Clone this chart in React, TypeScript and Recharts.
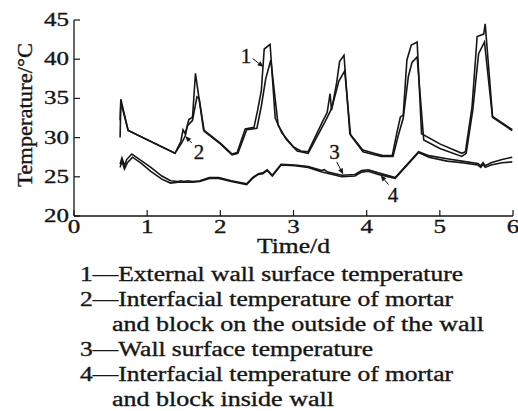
import { LineChart, Line, XAxis, YAxis, ReferenceLine, ReferenceDot, Label } from 'recharts';

const X_TICKS = [0, 1, 2, 3, 4, 5, 6];
const Y_TICKS = [20, 25, 30, 35, 40, 45];

// [time (d), temperature (°C)]
const externalSurface: [number, number][] = [
    [0.63, 32.2], [0.64, 34.9], [0.74, 30.9], [1.38, 28.0], [1.46, 29.5], [1.49, 31.0], [1.52, 30.5],
    [1.57, 32.3], [1.62, 32.6], [1.66, 38.2], [1.77, 31.0], [2.0, 29.3], [2.16, 27.9], [2.23, 28.1],
    [2.34, 31.1], [2.46, 31.3], [2.51, 33.5], [2.56, 36.0], [2.60, 41.3], [2.68, 41.9], [2.75, 32.5],
    [2.84, 30.6], [3.0, 28.8], [3.1, 28.3], [3.2, 28.2], [3.41, 32.3], [3.46, 33.2], [3.50, 35.6],
    [3.52, 33.5], [3.59, 37.0], [3.63, 39.7], [3.69, 40.5], [3.77, 30.5], [3.95, 28.4], [4.1, 28.0],
    [4.22, 27.7], [4.35, 27.7], [4.41, 30.5], [4.46, 32.6], [4.50, 32.9], [4.55, 39.9], [4.61, 41.8],
    [4.69, 42.2], [4.75, 30.5], [5.0, 29.2], [5.30, 28.0], [5.35, 28.2], [5.44, 33.9], [5.51, 42.9],
    [5.60, 43.2], [5.62, 44.5], [5.72, 32.7], [5.99, 31.0],
];
const outsideInterface: [number, number][] = [
    [0.63, 30.0], [0.64, 34.5], [0.74, 30.9], [1.38, 28.0], [1.47, 29.3], [1.52, 30.2], [1.55, 31.5],
    [1.62, 32.2], [1.68, 35.2], [1.71, 35.0], [1.78, 30.8], [2.0, 29.2], [2.16, 27.8], [2.24, 28.0],
    [2.36, 31.0], [2.50, 31.2], [2.56, 34.0], [2.62, 37.5], [2.69, 39.9], [2.79, 31.6], [2.9, 29.8],
    [3.05, 28.3], [3.2, 28.0], [3.43, 32.0], [3.50, 33.3], [3.53, 34.0], [3.62, 37.2], [3.70, 38.5],
    [3.78, 30.3], [3.95, 28.2], [4.2, 27.6], [4.36, 27.6], [4.43, 30.2], [4.50, 32.5], [4.57, 37.8],
    [4.62, 39.6], [4.69, 40.3], [4.78, 29.7], [5.0, 28.6], [5.30, 27.6], [5.36, 28.0], [5.45, 33.5],
    [5.53, 40.7], [5.61, 42.2], [5.72, 32.6], [5.99, 30.9],
];
const wallSurface: [number, number][] = [
    [0.63, 26.6], [0.655, 27.4], [0.69, 26.4], [0.72, 27.2], [0.79, 27.9], [0.9, 27.2], [1.05, 26.2],
    [1.2, 25.1], [1.32, 24.5], [1.42, 24.4], [1.46, 24.5], [1.5, 24.4], [1.56, 24.5], [1.62, 24.4],
    [1.72, 24.5], [1.85, 24.9], [1.98, 24.9], [2.15, 24.5], [2.36, 24.1], [2.44, 24.9], [2.52, 25.4],
    [2.58, 25.5], [2.64, 25.9], [2.71, 25.2], [2.83, 26.6], [3.02, 26.5], [3.2, 26.3], [3.39, 25.8],
    [3.42, 25.9], [3.47, 25.6], [3.66, 25.2], [3.84, 25.3], [3.93, 25.8], [4.02, 25.9], [4.16, 25.5],
    [4.39, 24.9], [4.71, 28.2], [4.85, 27.7], [5.1, 27.3], [5.30, 27.0], [5.52, 26.7], [5.56, 26.4],
    [5.59, 26.8], [5.62, 26.4], [5.7, 26.8], [5.85, 27.2], [5.99, 27.5],
];
const insideInterface: [number, number][] = [
    [0.63, 26.2], [0.655, 27.0], [0.69, 26.0], [0.73, 26.8], [0.8, 27.5], [0.92, 26.7], [1.05, 25.7],
    [1.2, 24.7], [1.32, 24.2], [1.42, 24.3], [1.5, 24.3], [1.62, 24.3], [1.72, 24.4], [1.85, 24.8],
    [1.98, 24.8], [2.15, 24.4], [2.36, 24.0], [2.44, 24.8], [2.52, 25.3], [2.58, 25.4], [2.64, 25.8],
    [2.71, 25.1], [2.83, 26.5], [3.02, 26.4], [3.2, 26.2], [3.39, 25.6], [3.66, 25.0], [3.84, 25.1],
    [3.93, 25.6], [4.02, 25.7], [4.16, 25.3], [4.39, 24.8], [4.71, 28.1], [4.85, 27.5], [5.1, 27.0],
    [5.30, 26.8], [5.52, 26.5], [5.56, 26.2], [5.59, 26.6], [5.62, 26.2], [5.7, 26.5], [5.85, 26.8],
    [5.99, 26.9],
];

const SERIES_IDS = ['1', '2', '3', '4'];
const SERIES_NAMES = [
    ['External wall surface temperature'],
    ['Interfacial temperature of mortar', 'and block on the outside of the wall'],
    ['Wall surface temperature'],
    ['Interfacial temperature of mortar', 'and block inside wall'],
];
const SERIES_POINTS = [externalSurface, outsideInterface, wallSurface, insideInterface];

// numbered callouts: label position and arrow (data coordinates)
const CALLOUT_TEXT: [number, number][] = [[2.35, 40.4], [1.71, 28.2], [3.56, 28.2], [4.36, 22.7]];
const CALLOUT_FROM: [number, number][] = [[2.44, 40.1], [1.61, 29.3], [3.59, 26.9], [4.30, 24.0]];
const CALLOUT_TO: [number, number][] = [[2.59, 39.0], [1.52, 30.2], [3.68, 25.3], [4.19, 25.2]];

const INK = '#161616';
const FONT = 'Liberation Serif';
// scanned text looks a little heavier than the plain font
const TEXT_STYLE = { fill: INK, stroke: INK, strokeWidth: 0.35, fontFamily: FONT };

const XTick = ({ x, y, payload }: any) => {
    const s = String(payload.value);
    return (
        <g>
            <line x1={x} x2={x} y1={y} y2={y - 6} stroke={INK} strokeWidth={1.2} />
            <text x={x} y={y + 17} textAnchor="middle" fontSize={19} {...TEXT_STYLE}
                textLength={12.5 * s.length} lengthAdjust="spacingAndGlyphs">{s}</text>
        </g>
    );
};

const YTick = ({ x, y, payload }: any) => {
    const s = String(payload.value);
    return (
        <g>
            <line x1={x} x2={x + 6} y1={y} y2={y} stroke={INK} strokeWidth={1.2} />
            <text x={x - 5} y={y + 6} textAnchor="end" fontSize={19} {...TEXT_STYLE}
                textLength={12.5 * s.length} lengthAdjust="spacingAndGlyphs">{s}</text>
        </g>
    );
};

const Arrow = ({ x1, y1, x2, y2 }: any) => {
    const a = Math.atan2(y2 - y1, x2 - x1);
    const L = 6, W = 2.5;
    const bx = x2 - L * Math.cos(a), by = y2 - L * Math.sin(a);
    const px = -Math.sin(a) * W, py = Math.cos(a) * W;
    return (
        <g>
            <line x1={x1} y1={y1} x2={bx} y2={by} stroke={INK} strokeWidth={1} />
            <polygon points={`${x2},${y2} ${bx + px},${by + py} ${bx - px},${by - py}`} fill={INK} />
        </g>
    );
};

// legend line layout: [x, baseline, textLength]
const LEGEND_LAYOUT: [number, number, number][] = [
    [80, 281, 383], [80, 306, 373], [112, 331, 372], [80, 356, 293], [80, 381, 373], [112, 406, 222],
];

export default function App() {
    const legendLines: string[] = [];
    SERIES_NAMES.forEach((name, i) => {
        name.forEach((part, j) => legendLines.push(j === 0 ? `${SERIES_IDS[i]}\u2014${part}` : part));
    });

    return (
        <div style={{ position: 'relative', width: 518, height: 411, background: '#fff' }}>
            <style>{`body{margin:0}`}</style>
            <LineChart width={518} height={260} margin={{ top: 20, right: 5, left: 0, bottom: 0 }}>
                <XAxis type="number" dataKey="t" domain={[0, 6]} ticks={X_TICKS} allowDataOverflow
                    height={44} tickSize={0} tickMargin={0} tick={<XTick />}
                    axisLine={{ stroke: INK, strokeWidth: 1.3 }} tickLine={false}>
                    <Label content={({ viewBox }: any) => (
                        <text x={viewBox.x + viewBox.width / 2} y={viewBox.y + 37} textAnchor="middle"
                            fontSize={20} {...TEXT_STYLE} textLength={73}
                            lengthAdjust="spacingAndGlyphs">Time/d</text>
                    )} />
                </XAxis>
                <YAxis type="number" domain={[20, 45]} ticks={Y_TICKS} allowDataOverflow width={74}
                    tickSize={0} tickMargin={0} tick={<YTick />}
                    axisLine={{ stroke: INK, strokeWidth: 1.3 }} tickLine={false}>
                    <Label content={({ viewBox }: any) => (
                        <text transform={`translate(32, ${viewBox.y + viewBox.height / 2 - 3}) rotate(-90)`}
                            textAnchor="middle" fontSize={20} {...TEXT_STYLE}
                            textLength={144} lengthAdjust="spacingAndGlyphs">Temperature/°C</text>
                    )} />
                </YAxis>
                {SERIES_POINTS.map((pts, i) => (
                    <Line key={SERIES_IDS[i]} data={pts.map(([t, v]) => ({ t, v }))} dataKey="v"
                        type="linear" stroke={INK} strokeWidth={1.6} dot={false}
                        isAnimationActive={false} />
                ))}
                {CALLOUT_FROM.map((from, i) => (
                    <ReferenceLine key={`arrow-${i}`} segment={[{ x: from[0], y: from[1] }, { x: CALLOUT_TO[i][0], y: CALLOUT_TO[i][1] }]}
                        ifOverflow="visible" shape={(p: any) => <Arrow {...p} />} />
                ))}
                {CALLOUT_TEXT.map((pos, i) => (
                    <ReferenceDot key={`num-${i}`} x={pos[0]} y={pos[1]} r={0} ifOverflow="visible"
                        shape={(p: any) => (
                            <text x={p.cx} y={p.cy + 7} textAnchor="middle" fontSize={21}
                                {...TEXT_STYLE}>{SERIES_IDS[i]}</text>
                        )} />
                ))}
            </LineChart>
            <svg width={518} height={411} style={{ position: 'absolute', left: 0, top: 0, pointerEvents: 'none' }}>
                {legendLines.map((line, i) => (
                    <text key={i} x={LEGEND_LAYOUT[i][0]} y={LEGEND_LAYOUT[i][1]} fontSize={20}
                        {...TEXT_STYLE} textLength={LEGEND_LAYOUT[i][2]}
                        lengthAdjust="spacingAndGlyphs">{line}</text>
                ))}
            </svg>
        </div>
    );
}
